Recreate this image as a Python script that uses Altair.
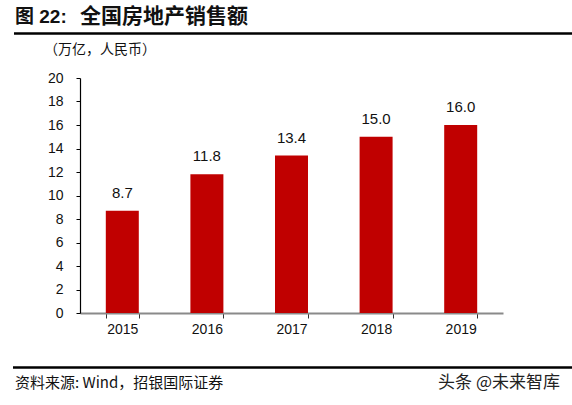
import altair as alt
import pandas as pd

# 全国房地产销售额 (万亿元)
years = ["2015", "2016", "2017", "2018", "2019"]
sales = [8.7, 11.8, 13.4, 15.0, 16.0]
y_ticks = [0, 2, 4, 6, 8, 10, 12, 14, 16, 18, 20]

title_prefix = "图 22:"
title_main = "全国房地产销售额"
unit_label = "（万亿，人民币）"
source_label = "资料来源: Wind，招银国际证券"
watermark = "头条 @未来智库"

LATIN = "Liberation Sans, Arial, Noto Sans CJK SC"
CJK = "Noto Sans CJK SC, Liberation Sans"
BAR = "#C00000"

df = pd.DataFrame({"year": years, "sales": sales})
one = pd.DataFrame({"k": [0]})

x_axis = alt.Axis(
    title=None,
    labelAngle=0,
    labelFont=LATIN,
    labelFontSize=14,
    labelColor="#111111",
    labelPadding=4,
    domainColor="#8a8a8a",
    domainWidth=2,
    tickColor="#333333",
    tickSize=5,
    tickBand="extent",
)
y_axis = alt.Axis(
    title=None,
    values=y_ticks,
    labelOverlap=False,
    grid=False,
    labelFont=LATIN,
    labelFontSize=14,
    labelColor="#111111",
    labelPadding=13,
    domainColor="#000000",
    domainWidth=1.2,
    tickColor="#000000",
    tickSize=4,
)
x_enc = alt.X(
    "year:N",
    sort=years,
    scale=alt.Scale(paddingInner=0.61, paddingOuter=0.305),
    axis=x_axis,
)
y_enc = alt.Y("sales:Q", scale=alt.Scale(domain=[0, 20], nice=False), axis=y_axis)

base = alt.Chart(df).encode(x=x_enc, y=y_enc)
bars = base.mark_bar(color=BAR)
values = base.mark_text(
    dy=-10, baseline="bottom", font=LATIN, fontSize=15, color="#111111"
).encode(text=alt.Text("sales:Q", format=".1f"))

ann = alt.Chart(one)


def label(text, x, y, size, font=CJK, weight="normal", align="left", color="#111111"):
    return ann.mark_text(
        text=text, align=align, baseline="middle", font=font,
        fontSize=size, fontWeight=weight, color=color,
    ).encode(x=alt.value(x), y=alt.value(y))


def hline(x1, x2, y, w):
    return ann.mark_rule(color="#000000", strokeWidth=w).encode(
        x=alt.value(x1), x2=alt.value(x2), y=alt.value(y)
    )


decor = (
    label(title_prefix, -65, -61, 19, font=LATIN, weight="bold")
    + label(title_main, 0, -61, 21, weight="bold")
    + hline(-66, 492, -44.5, 2.5)
    + label(unit_label, -36, -28, 14)
    + hline(-67, 492, 289.5, 2.5)
    + label(source_label, -65, 305, 15)
    + label(watermark, 480, 305, 17, align="right", color="#222222")
)

chart = (
    alt.layer(bars, values, decor)
    .properties(
        width=423,
        height=235,
        padding={"left": 80, "top": 78, "right": 69, "bottom": 92},
        autosize=alt.AutoSizeParams(type="none"),
        background="white",
    )
    .configure_view(stroke=None)
)

chart.save("out.html", embed_options={"renderer": "svg", "actions": False})
